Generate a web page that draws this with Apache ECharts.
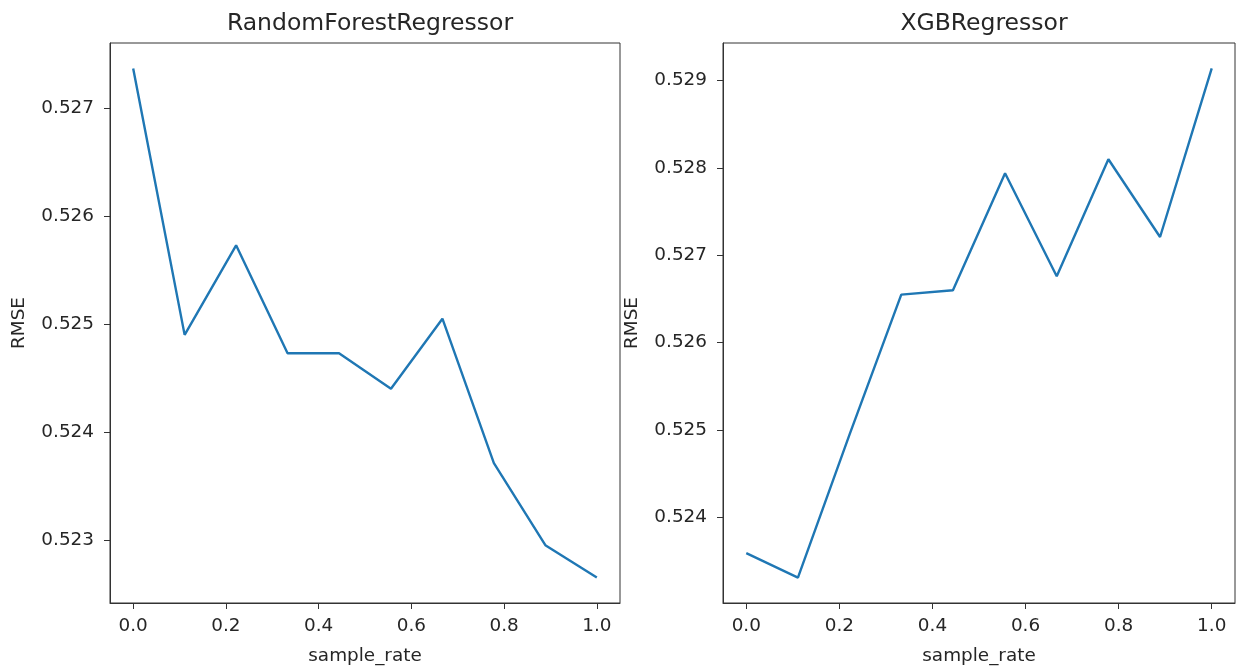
<!DOCTYPE html>
<html>
<head>
<meta charset="utf-8">
<script src="https://cdn.jsdelivr.net/npm/echarts@6/dist/echarts.min.js"></script>
<style>
  html, body { margin: 0; padding: 0; background: #fff; }
  #main { width: 1236px; height: 666px; }
</style>
</head>
<body>
<div id="main"></div>
<script>
// sample_rate values (x)
var sampleRate = [0, 0.111, 0.222, 0.333, 0.444, 0.556, 0.667, 0.778, 0.889, 1.0];
// RMSE per model
var rfRmse  = [0.52737, 0.52490, 0.52573, 0.52473, 0.52473, 0.52440, 0.52505, 0.52371, 0.52295, 0.52265];
var xgbRmse = [0.52359, 0.52331, 0.52495, 0.52655, 0.52660, 0.52794, 0.52676, 0.52810, 0.52721, 0.52914];
// tick labels
var xTicks = [0, 0.2, 0.4, 0.6, 0.8, 1.0];
var rfYTicks  = [0.523, 0.524, 0.525, 0.526, 0.527];
var xgbYTicks = [0.524, 0.525, 0.526, 0.527, 0.528, 0.529];
var titles = ['RandomForestRegressor', 'XGBRegressor'];

var font = 'DejaVu Sans';
var textColor = '#262626';

// matplotlib-like 5% margins
function padRange(arr) {
  var lo = Math.min.apply(null, arr), hi = Math.max.apply(null, arr);
  var m = (hi - lo) * 0.05;
  return [lo - m, hi + m];
}

function pairs(ys) {
  return sampleRate.map(function (x, i) { return [x, ys[i]]; });
}

function xAxisFor(idx) {
  return {
    type: 'value', gridIndex: idx,
    min: -0.05, max: 1.05,
    name: 'sample_rate', nameLocation: 'middle', nameGap: 44,
    nameTextStyle: { fontFamily: font, fontSize: 18.4, color: textColor },
    axisLine: { show: true, onZero: false, lineStyle: { color: '#333', width: 1 } },
    splitLine: { show: false },
    axisTick: { show: true, length: 6, customValues: xTicks, lineStyle: { color: '#333' } },
    axisLabel: {
      customValues: xTicks, margin: 14,
      fontFamily: font, fontSize: 18.4, color: textColor,
      formatter: function (v) { return v.toFixed(1); }
    }
  };
}

function yAxisFor(idx, ys, ticks) {
  var r = padRange(ys);
  return {
    type: 'value', gridIndex: idx,
    min: r[0], max: r[1],
    name: 'RMSE', nameLocation: 'middle', nameGap: 82, nameRotate: 90,
    nameTextStyle: { fontFamily: font, fontSize: 18.4, color: textColor },
    axisLine: { show: true, onZero: false, lineStyle: { color: '#333', width: 1 } },
    splitLine: { show: false },
    axisTick: { show: true, length: 6, customValues: ticks, lineStyle: { color: '#333' } },
    axisLabel: {
      customValues: ticks, margin: 16,
      fontFamily: font, fontSize: 18.4, color: textColor,
      formatter: function (v) { return v.toFixed(3); }
    }
  };
}

function lineSeries(idx, ys) {
  return {
    type: 'line', xAxisIndex: idx, yAxisIndex: idx,
    data: pairs(ys), showSymbol: false, symbol: 'none',
    lineStyle: { color: '#1f77b4', width: 2.4 },
    animation: false
  };
}

var myChart = echarts.init(document.getElementById('main'));
var option = {
  animation: false,
  backgroundColor: '#fff',
  title: [
    { text: titles[0], left: 365, top: 7, textAlign: 'center',
      textStyle: { fontFamily: font, fontSize: 23.5, fontWeight: 'normal', color: textColor } },
    { text: titles[1], left: 979, top: 7, textAlign: 'center',
      textStyle: { fontFamily: font, fontSize: 23.5, fontWeight: 'normal', color: textColor } }
  ],
  grid: [
    { left: 110, right: 616, top: 43, bottom: 63, outerBoundsMode: 'none', containLabel: false,
      show: true, borderColor: '#333', borderWidth: 1, backgroundColor: 'transparent' },
    { left: 723, right: 1, top: 43, bottom: 63, outerBoundsMode: 'none', containLabel: false,
      show: true, borderColor: '#333', borderWidth: 1, backgroundColor: 'transparent' }
  ],
  xAxis: [xAxisFor(0), xAxisFor(1)],
  yAxis: [yAxisFor(0, rfRmse, rfYTicks), yAxisFor(1, xgbRmse, xgbYTicks)],
  series: [lineSeries(0, rfRmse), lineSeries(1, xgbRmse)]
};
myChart.setOption(option);
window.addEventListener('resize', myChart.resize);
</script>
</body>
</html>
